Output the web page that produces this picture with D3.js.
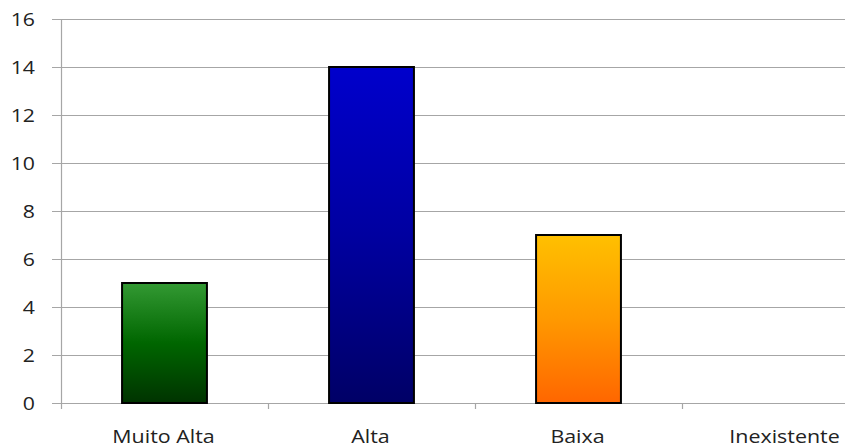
<!DOCTYPE html>
<html><head><meta charset="utf-8">
<script src="https://cdn.jsdelivr.net/npm/d3@7"></script>
<style>
html,body{margin:0;padding:0;background:#fff;overflow:hidden;}
svg text{font-family:"Open Sans",sans-serif;fill:#222;}
</style></head>
<body>
<svg id="chart" width="845" height="448"></svg>
<script>
const categories = ["Muito Alta", "Alta", "Baixa", "Inexistente"];
const values = [5, 14, 7, 0];
const yTicks = [0, 2, 4, 6, 8, 10, 12, 14, 16];
const gradients = [
  ["#339933", "#006600", "#003300"],
  ["#0000CC", "#0000A0", "#000066"],
  ["#FFC000", "#FF9900", "#FF6600"],
  ["#CCCCCC", "#AAAAAA", "#888888"]
];

(function () {
const svg = d3.select("#chart");
const mLeft = 61, mTop = 19, mBottom = 403, catW = 207;
const mRight = mLeft + catW * categories.length;

const x = d3.scaleBand().domain(categories).range([mLeft, mRight]).paddingInner(0.59).paddingOuter(0.295);
const xc = d3.scaleBand().domain(categories).range([mLeft, mRight]);
const y = d3.scaleLinear().domain([0, 16]).range([mBottom, mTop]);

const defs = svg.append("defs");
gradients.forEach((g, i) => {
  const lg = defs.append("linearGradient").attr("id", "g" + i)
    .attr("x1", 0).attr("y1", 0).attr("x2", 0).attr("y2", 1);
  lg.append("stop").attr("offset", "0%").attr("stop-color", g[0]);
  lg.append("stop").attr("offset", "50%").attr("stop-color", g[1]);
  lg.append("stop").attr("offset", "100%").attr("stop-color", g[2]);
});

svg.append("g").selectAll("line").data(yTicks).join("line")
  .attr("x1", mLeft - 9).attr("x2", 845)
  .attr("y1", d => Math.round(y(d)) + 0.5).attr("y2", d => Math.round(y(d)) + 0.5)
  .attr("stroke", "#A6A6A6").attr("stroke-width", 1.2);

svg.append("line").attr("x1", mLeft + 0.5).attr("x2", mLeft + 0.5)
  .attr("y1", y(16)).attr("y2", mBottom + 6)
  .attr("stroke", "#A6A6A6").attr("stroke-width", 1.2);

svg.append("g").selectAll("line").data(categories.slice(1)).join("line")
  .attr("x1", d => Math.round(xc(d)) + 0.5).attr("x2", d => Math.round(xc(d)) + 0.5)
  .attr("y1", mBottom).attr("y2", mBottom + 6)
  .attr("stroke", "#A6A6A6").attr("stroke-width", 1.2);

svg.append("g").selectAll("text").data(yTicks).join("text")
  .attr("transform", d => `translate(35,${y(d) + 6.5}) scale(1.15,1)`)
  .attr("text-anchor", "end").attr("font-size", 18.5).text(d => d);

svg.append("g").selectAll("rect").data(categories.map((c, i) => ({c, v: values[i], i})).filter(d => d.v > 0)).join("rect")
  .attr("x", d => x(d.c)).attr("width", x.bandwidth())
  .attr("y", d => y(d.v)).attr("height", d => y(0) - y(d.v))
  .attr("fill", d => `url(#g${d.i})`)
  .attr("stroke", "#000").attr("stroke-width", 2);

svg.append("g").selectAll("text").data(categories).join("text")
  .attr("transform", d => `translate(${xc(d) + xc.bandwidth() / 2 - 1},443) scale(1.19,1)`)
  .attr("text-anchor", "middle").attr("font-size", 18).text(d => d);
})();
</script>
</body></html>
